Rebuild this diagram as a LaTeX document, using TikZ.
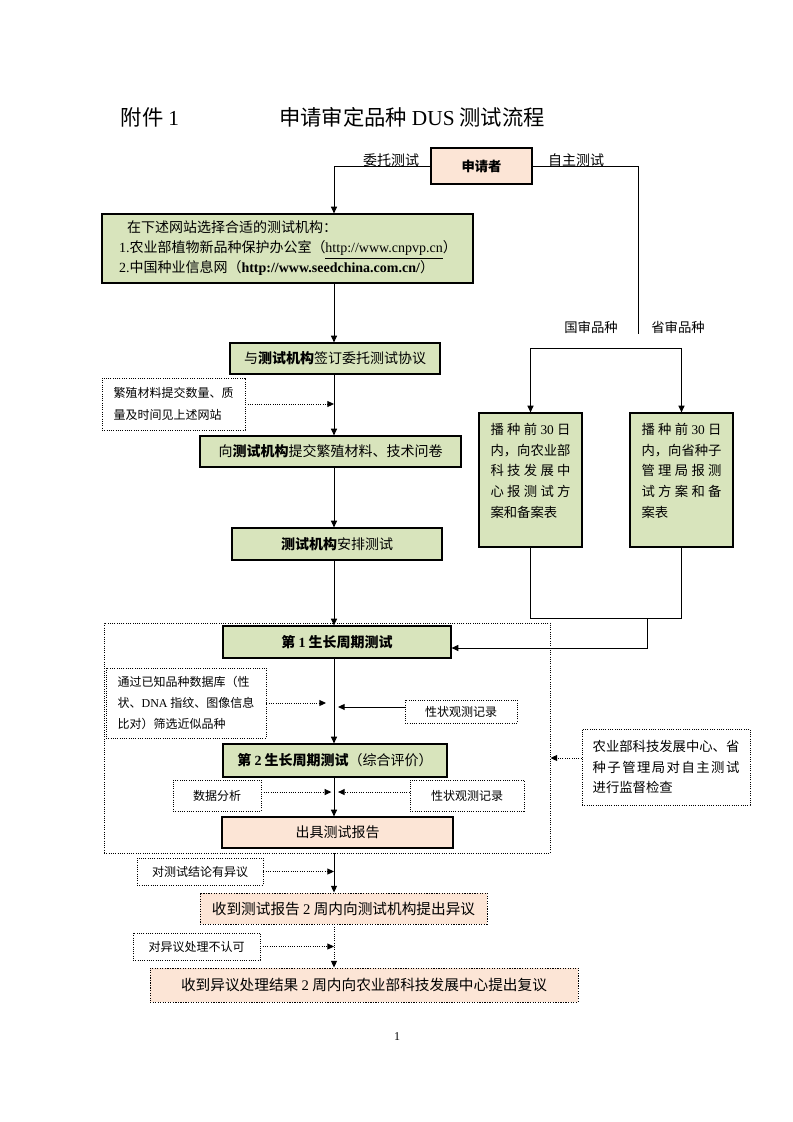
\documentclass[tikz,border=0pt]{standalone}
\usepackage{fontspec}
\setmainfont{Noto Sans CJK SC}
\newfontfamily\lat{Liberation Serif}
\usetikzlibrary{arrows.meta}

\definecolor{boxgreen}{RGB}{216,228,188}
\definecolor{boxpeach}{RGB}{252,229,214}

\newcommand\mainsize{\fontsize{10.5pt}{15pt}\selectfont}
\newcommand\notesize{\fontsize{9pt}{16pt}\selectfont}
\newcommand\tagsize{\fontsize{10pt}{15.5pt}\selectfont}
\newcommand\titlesize{\fontsize{16pt}{20pt}\selectfont}

% spread the characters of one line over a given width
\def\spreadend{}
\newcommand\spreadrow[2]{\makebox[#1][s]{\spreadgo#2\spreadend}}
\def\spreadgo#1{{#1}\spreadnext}
\def\spreadnext#1{\ifx\spreadend#1\else\hfil{#1}\expandafter\spreadnext\fi}

\tikzset{
  greenbox/.style={draw, line width=0.9pt, fill=boxgreen, inner sep=0pt, font=\mainsize},
  peachbox/.style={draw, line width=0.9pt, fill=boxpeach, inner sep=0pt, font=\mainsize},
  notebox/.style={draw, densely dotted, line width=0.7pt, inner sep=0pt, font=\notesize},
  link/.style={-{Triangle[length=5pt,width=4.5pt]}, line width=0.7pt},
  dotlink/.style={link, densely dotted},
}

\begin{document}
\begin{tikzpicture}[x=0.75pt, y=-0.75pt]
\useasboundingbox (0,0) rectangle (793,1122);
\coordinate (spine) at (334,0);

% title
\node[font=\titlesize] (annex) at (150,117) {附件 {\lat 1}};
\node[font=\titlesize] (title) at (412,117) {申请审定品种 {\lat DUS} 测试流程};

% applicant
\node[peachbox, font=\tagsize\bfseries, minimum width=75.75pt, minimum height=27pt] (apply) at (481.5,166) {申请者};
\node[font=\mainsize] (entrust) at (391,160) {委托测试};
\node[font=\mainsize] (self) at (576,160) {自主测试};

% left branch: entrusted test
\node[greenbox, minimum width=278.25pt, minimum height=51.75pt, text width=252.75pt, align=left] (site) at (287.5,248.5)
  {\hspace*{6pt}在下述网站选择合适的测试机构：\\
   {\lat 1.}农业部植物新品种保护办公室（\underline{\lat http://www.cnpvp.cn}）\\
   {\lat 2.}中国种业信息网（{\lat\bfseries http://www.seedchina.com.cn/}）};
\node[greenbox, minimum width=157.5pt, minimum height=23.25pt] (sign) at (335,358.5) {与\textbf{测试机构}签订委托测试协议};
\node[notebox, minimum width=107.25pt, minimum height=39pt, align=left] (note1) at (173.5,404)
  {繁殖材料提交数量、质\\量及时间见上述网站};
\node[greenbox, minimum width=195.75pt, minimum height=23.25pt] (submit) at (330.5,451.5) {向\textbf{测试机构}提交繁殖材料、技术问卷};
\node[greenbox, minimum width=157.5pt, minimum height=24pt] (arrange) at (337,544) {\textbf{测试机构}安排测试};

% right branch: self test
\coordinate (fork) at (638,334);
\coordinate (bar) at (605,348);
\coordinate (join) at (647,618);
\node[font=\tagsize] (national) at (591,327) {国审品种};
\node[font=\tagsize] (province) at (678,327) {省审品种};
\node[greenbox, minimum width=77.25pt, minimum height=100.5pt] (nat) at (530.5,480) {};
\node[greenbox, minimum width=77.25pt, minimum height=100.5pt] (prov) at (681.5,480) {};
\node[font=\tagsize, inner sep=0pt, align=left, anchor=north] (natText) at ([yshift=-8pt]nat.north)
  {\spreadrow{60pt}{播种前{\lat 30}日}\\\spreadrow{60pt}{内，向农业部}\\\spreadrow{60pt}{科技发展中}\\\spreadrow{60pt}{心报测试方}\\案和备案表};
\node[font=\tagsize, inner sep=0pt, align=left, anchor=north] (provText) at ([yshift=-8pt]prov.north)
  {\spreadrow{60pt}{播种前{\lat 30}日}\\\spreadrow{60pt}{内，向省种子}\\\spreadrow{60pt}{管理局报测}\\\spreadrow{60pt}{试方案和备}\\案表};

% growing cycles
\node[notebox, minimum width=334.5pt, minimum height=172.5pt] (region) at (327,738) {};
\node[greenbox, minimum width=171pt, minimum height=24pt] (cyc1) at (337,642) {\textbf{第 {\lat 1} 生长周期测试}};
\node[notebox, minimum width=120pt, minimum height=52.5pt, align=left, font=\fontsize{9pt}{15.75pt}\selectfont] (db) at (186,703)
  {通过已知品种数据库（性\\状、{\lat DNA} 指纹、图像信息\\比对）筛选近似品种};
\node[notebox, minimum width=84pt, minimum height=17.25pt] (obs1) at (461,711.5) {性状观测记录};
\node[greenbox, minimum width=168pt, minimum height=24.75pt] (cyc2) at (335,760.5) {\textbf{第 {\lat 2} 生长周期测试}（综合评价）};
\node[notebox, minimum width=66pt, minimum height=23.25pt] (data) at (217,795.5) {数据分析};
\node[notebox, minimum width=85.5pt, minimum height=23.25pt] (obs2) at (467,795.5) {性状观测记录};
\node[peachbox, minimum width=173.25pt, minimum height=23.25pt] (report) at (337.5,832.5) {出具测试报告};
\node[notebox, font=\tagsize, minimum width=126pt, minimum height=57pt, align=left] (super) at (666,767)
  {农业部科技发展中心、省\\\spreadrow{110pt}{种子管理局对自主测试}\\进行监督检查};

% objections
\node[notebox, minimum width=94.5pt, minimum height=20.25pt] (object1) at (200,871.5) {对测试结论有异议};
\node[peachbox, densely dotted, line width=0.7pt, font=\fontsize{11pt}{14pt}\selectfont, minimum width=215.25pt, minimum height=23.25pt] (appeal) at (343.5,908.5)
  {收到测试报告 {\lat 2} 周内向测试机构提出异议};
\node[notebox, minimum width=95.25pt, minimum height=20.25pt] (object2) at (196.5,946.5) {对异议处理不认可};
\node[peachbox, densely dotted, line width=0.7pt, font=\fontsize{11pt}{14pt}\selectfont, minimum width=321pt, minimum height=25.5pt] (review) at (364,985)
  {收到异议处理结果 {\lat 2} 周内向农业部科技发展中心提出复议};

\node[font=\lat\fontsize{9pt}{11pt}\selectfont] (pagenum) at (397,1037) {1};

% connectors
\draw[link] (apply.west) -| (site.north -| spine);
\draw[line width=0.7pt] (apply.east) -| (fork);
\draw[link] (site.south -| spine) -- (sign.north -| spine);
\draw[link] (sign.south -| spine) -- (submit.north -| spine);
\draw[dotlink] (note1.east) -- (note1.east -| spine);
\draw[link] (submit.south -| spine) -- (arrange.north -| spine);
\draw[link] (arrange.south -| spine) -- (cyc1.north -| spine);

\draw[link] (prov.north |- bar) -- (nat.north |- bar) -- (nat.north);
\draw[link] (prov.north |- bar) -- (prov.north);
\draw[line width=0.7pt] (nat.south) -- (nat.south |- join) -- (prov.south |- join) -- (prov.south);
\draw[link] (join) |- ([yshift=-4.5pt]cyc1.east);

\draw[link] (cyc1.south -| spine) -- (cyc2.north -| spine);
\draw[dotlink, shorten >=6pt] (db.east) -- (db.east -| spine);
\draw[link, shorten >=3pt] ([yshift=3.4pt]obs1.west) -- ([yshift=3.4pt]obs1.west -| spine);
\draw[link] (cyc2.south -| spine) -- (report.north -| spine);
\draw[dotlink, shorten >=2pt] ([yshift=2.6pt]data.east) -- ([yshift=2.6pt]data.east -| spine);
\draw[dotlink, shorten >=3pt] ([yshift=2.6pt]obs2.west) -- ([yshift=2.6pt]obs2.west -| spine);
\draw[dotlink] ([yshift=6.75pt]super.west) -- ([yshift=6.75pt]super.west -| region.east);

\draw[link] (region.south -| spine) -- (appeal.north -| spine);
\draw[dotlink] (object1.east) -- (object1.east -| spine);
\draw[dotlink] (appeal.south -| spine) -- (review.north -| spine);
\draw[dotlink] (object2.east) -- (object2.east -| spine);
\end{tikzpicture}
\end{document}
